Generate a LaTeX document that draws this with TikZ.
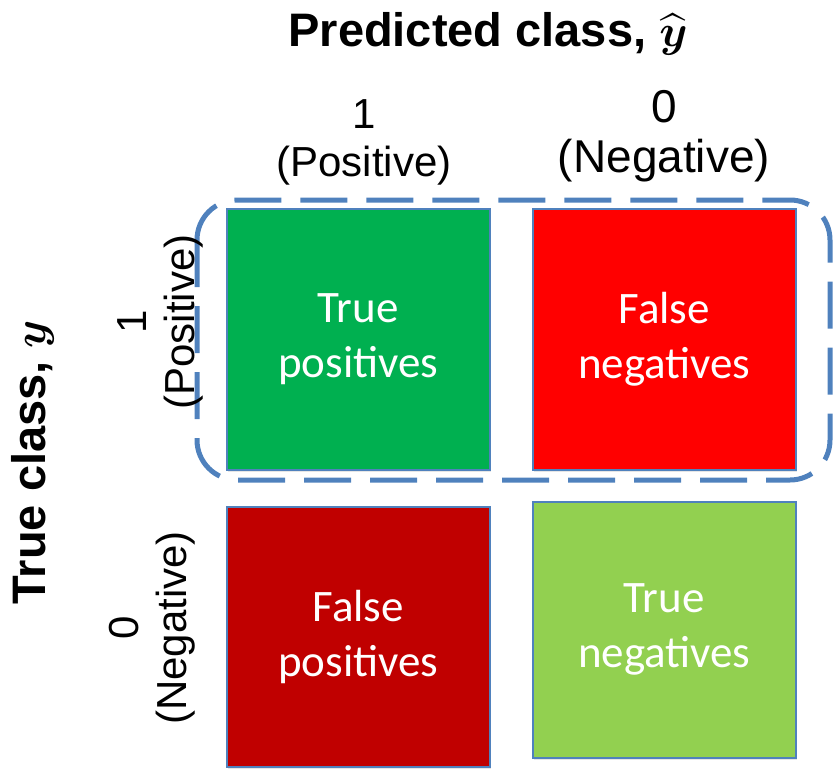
\documentclass[tikz,border=0pt]{standalone}
\usepackage{amsmath}
\usepackage{graphicx}
\usepackage{fontspec}
\setmainfont{Liberation Sans}
\newfontfamily\calibri{Carlito}
\usetikzlibrary{positioning,shadows}

\definecolor{frameblue}{HTML}{4F81BD}
\definecolor{tpgreen}{HTML}{00B050}
\definecolor{fnred}{HTML}{FF0000}
\definecolor{fpred}{HTML}{C00000}
\definecolor{tngreen}{HTML}{92D050}

\newcommand{\bigmath}[1]{{\normalsize\scalebox{4.5}{$#1$}}}

\tikzset{
  cell/.style={draw=frameblue, line width=1.5pt, anchor=north west,
    minimum width=263pt, inner sep=0pt, text=white, align=center,
    drop shadow={opacity=0.2, shadow xshift=1pt, shadow yshift=-2pt},
    font=\calibri\fontsize{45}{55}\selectfont},
  axistitle/.style={font=\bfseries\fontsize{47}{52}\selectfont},
  classlabel/.style={align=center, font=\fontsize{42}{48}\selectfont},
}

\begin{document}
\begin{tikzpicture}[x=1pt,y=-1pt]
  \useasboundingbox (0,0) rectangle (833,769);

  % the four cells
  \node[cell, fill=tpgreen, minimum height=261pt] (tp) at (226,208) {True\\positives};
  \node[cell, fill=fnred, minimum height=261pt] (fn) at (532,208) {False\\negatives};
  \node[cell, fill=fpred, minimum height=260pt] (fp) at (226,506) {False\\positives};
  \node[cell, fill=tngreen, minimum height=256pt] (tn) at (532,501) {True\\negatives};

  % dashed frame round the positive row
  \draw[frameblue, line width=5pt, dash pattern=on 47pt off 19pt, rounded corners=40pt]
    (197,200) rectangle (830,480);

  % predicted class
  \node[axistitle] (pred) at (488,34) {Predicted class, \bigmath{\widehat{\boldsymbol{y}}}};
  \node[classlabel, font=\fontsize{42}{48}\selectfont] (pone) at (364,142) {1\\(Positive)};
  \node[classlabel, font=\fontsize{46}{50}\selectfont] (pzero) at (664,136) {0\\(Negative)};

  % true class
  \node[axistitle, rotate=90] (true) at (33,462) {True class, \bigmath{\boldsymbol{y}}};
  \node[classlabel, rotate=90] (tone) at (160,322) {1\\(Positive)};
  \node[classlabel, rotate=90] (tzero) at (152,628) {0\\(Negative)};
\end{tikzpicture}
\end{document}
